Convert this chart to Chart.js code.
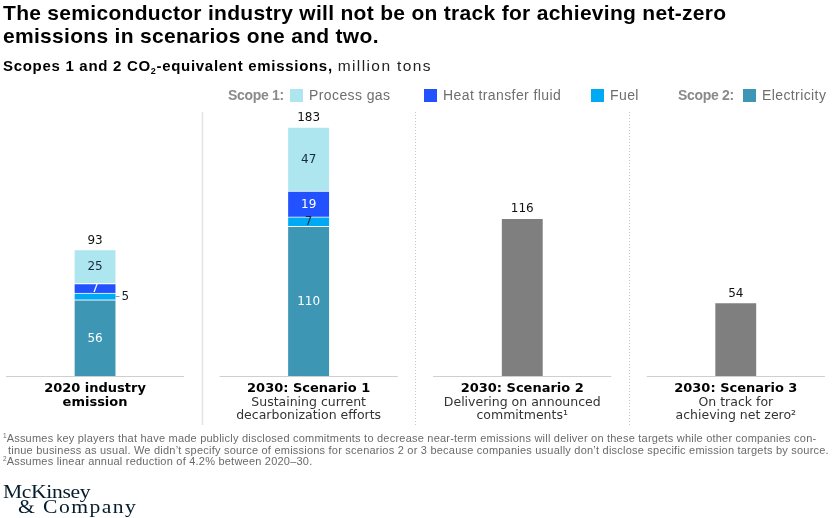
<!DOCTYPE html>
<html><head><meta charset="utf-8">
<script src="https://cdn.jsdelivr.net/npm/chart.js@4"></script>
<style>
body{margin:0;background:#fff;}
#wrap{position:relative;width:833px;height:518px;overflow:hidden;font-family:"Liberation Sans",Arial,sans-serif;}
canvas{position:absolute;left:0;top:0;}
.t{position:absolute;white-space:nowrap;}
.lg{position:absolute;top:88px;font-size:14px;letter-spacing:0.4px;color:#6e6e6e;line-height:15px;white-space:nowrap;}
.lh{position:absolute;top:88px;font-size:14px;letter-spacing:-0.3px;font-weight:bold;color:#8a8a8a;line-height:15px;white-space:nowrap;}
.sw{position:absolute;top:89px;width:13px;height:13px;}
.fn{position:absolute;left:3px;font-size:11px;letter-spacing:0.22px;color:#6a6a6a;white-space:nowrap;line-height:12px;}
.fn sup{font-size:6.5px;vertical-align:4px;line-height:0;letter-spacing:0;}
.logo{position:absolute;font-family:"Liberation Serif",serif;color:#051c2c;font-size:18px;white-space:nowrap;transform-origin:0 50%;transform:scaleX(1.2);}
</style></head><body>
<div id="wrap">
<canvas id="c" width="833" height="518" style="width:833px;height:518px"></canvas>
<div class="t" style="left:3px;top:2px;font-size:21px;letter-spacing:0.3px;font-weight:bold;line-height:22.5px;color:#000;">The semiconductor industry will not be on track for achieving net-zero<br>emissions in scenarios one and two.</div>
<div class="t" style="left:3px;top:57px;font-size:15px;letter-spacing:0.7px;color:#000;"><b>Scopes 1 and 2 CO<span style="font-size:9px;vertical-align:-3px;">2</span>-equivalent emissions,</b> <span style="letter-spacing:1.4px;font-size:15.5px;color:#222;">million tons</span></div>
<div id="legend"></div>
<div class="fn" style="top:432px;"><sup>1</sup>Assumes key players that have made publicly disclosed commitments to decrease near-term emissions will deliver on these targets while other companies con-</div>
<div class="fn" style="top:443.5px;left:8px;">tinue business as usual. We didn’t specify source of emissions for scenarios 2 or 3 because companies usually don’t disclose specific emission targets by source.</div>
<div class="fn" style="top:455px;"><sup>2</sup>Assumes linear annual reduction of 4.2% between 2020–30.</div>
<div class="logo" style="left:3px;top:482px;letter-spacing:-0.3px;">McKinsey</div>
<div class="logo" style="left:18px;top:497px;letter-spacing:1.2px;">&amp; Company</div>
</div>
<script>
// ---- data ----
const categories = ["2020 industry emission", "2030: Scenario 1", "2030: Scenario 2", "2030: Scenario 3"];
const labelBold = [["2020 industry", "emission"], ["2030: Scenario 1"], ["2030: Scenario 2"], ["2030: Scenario 3"]];
const labelSub = [[], ["Sustaining current", "decarbonization efforts"], ["Delivering on announced", "commitments¹"], ["On track for", "achieving net zero²"]];
const electricity = [56, 110, null, null];
const fuel = [5, 7, null, null];
const heatTransferFluid = [7, 19, null, null];
const processGas = [25, 47, null, null];
const unspecified = [null, null, 116, 54];
const totals = [93, 183, 116, 54];
const legendItems = [
  {type: 'head', text: 'Scope 1:', left: 228},
  {type: 'item', text: 'Process gas', color: '#aee6f0', left: 290},
  {type: 'item', text: 'Heat transfer fluid', color: '#2251ff', left: 424},
  {type: 'item', text: 'Fuel', color: '#00a9f4', left: 591},
  {type: 'head', text: 'Scope 2:', left: 678},
  {type: 'item', text: 'Electricity', color: '#3c96b4', left: 743}
];

// legend
const lg = document.getElementById('legend');
legendItems.forEach(it => {
  if (it.type === 'head') {
    const d = document.createElement('div'); d.className = 'lh'; d.style.left = it.left + 'px';
    d.textContent = it.text; lg.appendChild(d);
  } else {
    const s = document.createElement('div'); s.className = 'sw'; s.style.left = it.left + 'px'; s.style.background = it.color; lg.appendChild(s);
    const d = document.createElement('div'); d.className = 'lg'; d.style.left = (it.left + 19) + 'px'; d.textContent = it.text; lg.appendChild(d);
  }
});

const pts = arr => arr.map((v, i) => ({x: i, y: v}));
const mk = (label, arr, color, textColor) => ({
  label, data: pts(arr), backgroundColor: color, textColor,
  borderColor: '#ffffff', borderWidth: {top: 1, left: 0, right: 0, bottom: 0}, borderSkipped: false,
  barThickness: 41, stack: 's'
});

const decor = {
  id: 'decor',
  beforeDatasetsDraw(chart) {
    const ctx = chart.ctx, x = chart.scales.x, y = chart.scales.y;
    const base = Math.round(y.getPixelForValue(0)) + 0.5;
    ctx.save();
    for (let i = 0; i < categories.length - 1; i++) {
      const px = Math.round(x.getPixelForValue(i + 0.5)) + 0.5;
      ctx.beginPath();
      if (i === 0) { ctx.setLineDash([]); ctx.strokeStyle = '#e3e3e3'; ctx.lineWidth = 1.5; }
      else { ctx.setLineDash([1, 2]); ctx.strokeStyle = '#c8c8c8'; ctx.lineWidth = 1; }
      ctx.moveTo(px, 112); ctx.lineTo(px, 425); ctx.stroke();
    }
    ctx.setLineDash([]);
    ctx.strokeStyle = '#cfcfcf'; ctx.lineWidth = 1;
    categories.forEach((c, i) => {
      ctx.beginPath();
      ctx.moveTo(x.getPixelForValue(i - 0.417), base);
      ctx.lineTo(x.getPixelForValue(i + 0.417), base);
      ctx.stroke();
    });
    ctx.restore();
  },
  afterDatasetsDraw(chart) {
    const ctx = chart.ctx, x = chart.scales.x, y = chart.scales.y;
    ctx.save();
    ctx.textAlign = 'center'; ctx.textBaseline = 'middle';
    ctx.font = '12px "DejaVu Sans"';
    chart.data.datasets.forEach((ds, di) => {
      if (!ds.textColor) return;
      const meta = chart.getDatasetMeta(di);
      meta.data.forEach((el, i) => {
        const v = ds.data[i].y;
        if (v == null) return;
        const cy = (el.y + el.base) / 2;
        if (v < 6) {
          const right = el.x + 20.5;
          ctx.strokeStyle = '#999'; ctx.lineWidth = 1;
          ctx.beginPath(); ctx.moveTo(right, Math.round(cy) + 0.5); ctx.lineTo(right + 4, Math.round(cy) + 0.5); ctx.stroke();
          ctx.fillStyle = '#1a1a1a'; ctx.textAlign = 'left';
          ctx.fillText(String(v), right + 6, cy + 0.5);
          ctx.textAlign = 'center';
        } else {
          ctx.fillStyle = ds.textColor;
          ctx.fillText(String(v), el.x, cy + 0.5);
        }
      });
    });
    ctx.fillStyle = '#111';
    totals.forEach((t, i) => {
      const px = x.getPixelForValue(i);
      ctx.fillText(String(t), px, y.getPixelForValue(t) - 9);
    });
    categories.forEach((c, i) => {
      const px = x.getPixelForValue(i);
      let ly = 389;
      ctx.fillStyle = '#000'; ctx.font = 'bold 13px "DejaVu Sans"';
      labelBold[i].forEach(l => { ctx.fillText(l, px, ly); ly += 13.5; });
      ctx.fillStyle = '#333'; ctx.font = '12.5px "DejaVu Sans"';
      labelSub[i].forEach(l => { ctx.fillText(l, px, ly); ly += 13.5; });
    });
    ctx.restore();
  }
};

new Chart(document.getElementById('c'), {
  type: 'bar',
  data: {
    datasets: [
      mk('Electricity', electricity, '#3c96b4', '#ffffff'),
      mk('Fuel', fuel, '#00a9f4', '#1a2a3a'),
      mk('Heat transfer fluid', heatTransferFluid, '#2251ff', '#ffffff'),
      mk('Process gas', processGas, '#aee6f0', '#1a2a3a'),
      mk('Unspecified', unspecified, '#7f7f7f', null)
    ]
  },
  options: {
    responsive: false, animation: false, devicePixelRatio: 1,
    layout: {padding: {top: 104, bottom: 142, left: 0, right: 0}},
    plugins: {legend: {display: false}, tooltip: {enabled: false}},
    scales: {
      x: {type: 'linear', min: -0.445, max: 3.455, offset: false, display: false, stacked: true, grid: {offset: false}},
      y: {min: 0, max: 200, display: false, stacked: true}
    }
  },
  plugins: [decor]
});
</script>
</body></html>
